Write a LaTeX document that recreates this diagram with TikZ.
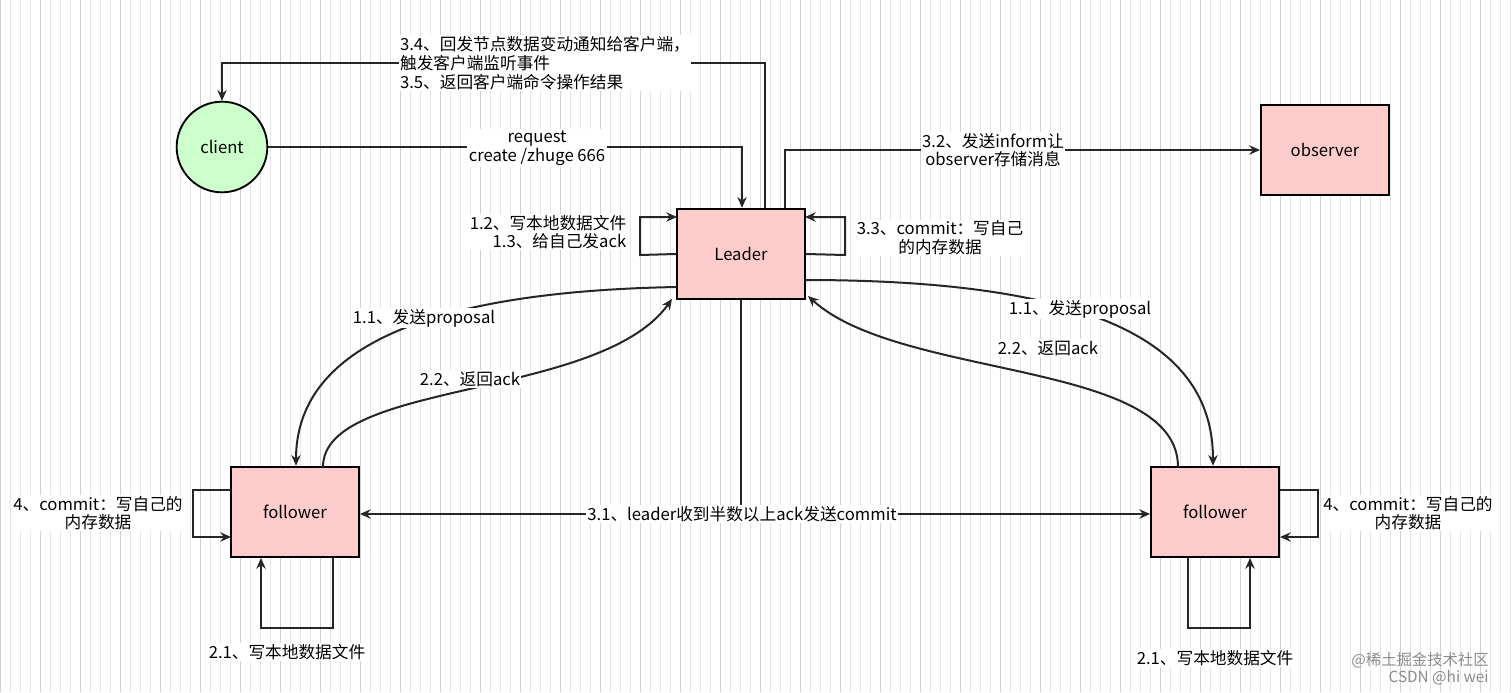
\documentclass[tikz,border=0pt]{standalone}
\usepackage{fontspec}
\setmainfont{Noto Sans CJK SC}
\usetikzlibrary{arrows.meta,calc}
\begin{document}
\begin{tikzpicture}[x=0.75pt,y=-0.75pt,
  box/.style={draw=black,line width=1.4pt,fill=red!20!white,minimum width=96pt,minimum height=68pt,inner sep=0pt},
  ln/.style={line width=1.5pt,draw=black!85},
  ar/.style={ln,-{Stealth[length=8pt,width=7pt]}},
  lbl/.style={font=\fontsize{12.5}{14}\selectfont,fill=white,inner sep=1pt,align=center}]
\useasboundingbox (0,0) rectangle (1512,692);
\fill[white] (0,0) rectangle (1512,692);
\draw[black!10,line width=0.4pt] (0,0) grid[step=10] (1512,692);
\draw[black!18,line width=0.5pt] (0,0) grid[step=40] (1512,692);
\node[circle,draw=black,line width=1.4pt,fill=green!20!white,minimum size=68pt,font=\fontsize{12.5}{14}\selectfont] (C) at (222,147) {client};
\node[box,font=\fontsize{12.5}{14}\selectfont] (O) at (1325,150) {observer};
\node[box,font=\fontsize{12.5}{14}\selectfont] (L) at (741,254) {Leader};
\node[box,font=\fontsize{12.5}{14}\selectfont] (F1) at (295,512) {follower};
\node[box,font=\fontsize{12.5}{14}\selectfont] (F2) at (1215,512) {follower};
% client -> leader
\draw[ar] (C.east) -- (742,147) -- ([xshift=0.75pt]L.north);
\node[lbl] (t1) at (537,148) {request\\create /zhuge 666};
% leader -> client
\draw[ar] ([xshift=18pt]L.north) -- (765,63) -- (222,63) -- (C.north);
\node[lbl,align=left] (t2) at (545,63) {3.4、回发节点数据变动通知给客户端，\\触发客户端监听事件\\3.5、返回客户端命令操作结果};
% leader -> observer
\draw[ar] ([xshift=33pt]L.north) -- (785,150) -- (O.west);
\node[lbl] (t3) at (993,150) {3.2、发送inform让\\observer存储消息};
% self loops leader
\draw[ar] (L.west) -- (640,255) -- (640,217) -- (677,217);
\node[lbl,align=right] (t4) at (548,232) {1.2、写本地数据文件\\1.3、给自己发ack};
\draw[ar] (L.east) -- (845,255) -- (845,217) -- (805,217);
\node[lbl] (t5) at (940,238) {3.3、commit：写自己\\的内存数据};
% curves
\draw[ar] (677,287) .. controls (400,292) and (296,360) .. ([xshift=0.75pt]F1.north);
\node[lbl] (t6) at (424,318) {1.1、发送proposal};
\draw[ar] (323,467) .. controls (323,380) and (600,400) .. (672,299);
\node[lbl] (t7) at (470,379) {2.2、返回ack};
\draw[ar] (805,280) .. controls (1110,280) and (1213,350) .. ([xshift=-1.5pt]F2.north);
\node[lbl] (t8) at (1080,309) {1.1、发送proposal};
\draw[ar] (1178,467) .. controls (1178,360) and (900,380) .. (808,296);
\node[lbl] (t9) at (1048,348) {2.2、返回ack};
% commit
\draw[ln] (L.south) -- (741,514) coordinate (m);
\draw[ar] (m) -- ([yshift=-1.5pt]F1.east);
\draw[ar] (m) -- ([yshift=-1.5pt]F2.west);
\node[lbl] (t10) at (742,514) {3.1、leader收到半数以上ack发送commit};
% follower loops
\draw[ar] (231,490) -- (193,490) -- (193,537) -- (231,537);
\node[lbl] (t11) at (98,513) {4、commit：写自己的\\内存数据};
\draw[ar] (333,558) -- (333,628) -- (261,628) -- (261,558);
\node[lbl] (t12) at (287,652) {2.1、写本地数据文件};
\draw[ar] (1280,490) -- (1318,490) -- (1318,537) -- (1280,537);
\node[lbl] (t13) at (1408,513) {4、commit：写自己的\\内存数据};
\draw[ar] (1188,558) -- (1188,628) -- (1250,628) -- (1250,558);
\node[lbl] (t14) at (1215,658) {2.1、写本地数据文件};
\node[font=\fontsize{11.5}{13}\selectfont,text=black!45,align=right,inner sep=0pt] (wm) at (1420,669) {@稀土掘金技术社区\\CSDN @hi wei};
\end{tikzpicture}
\end{document}
